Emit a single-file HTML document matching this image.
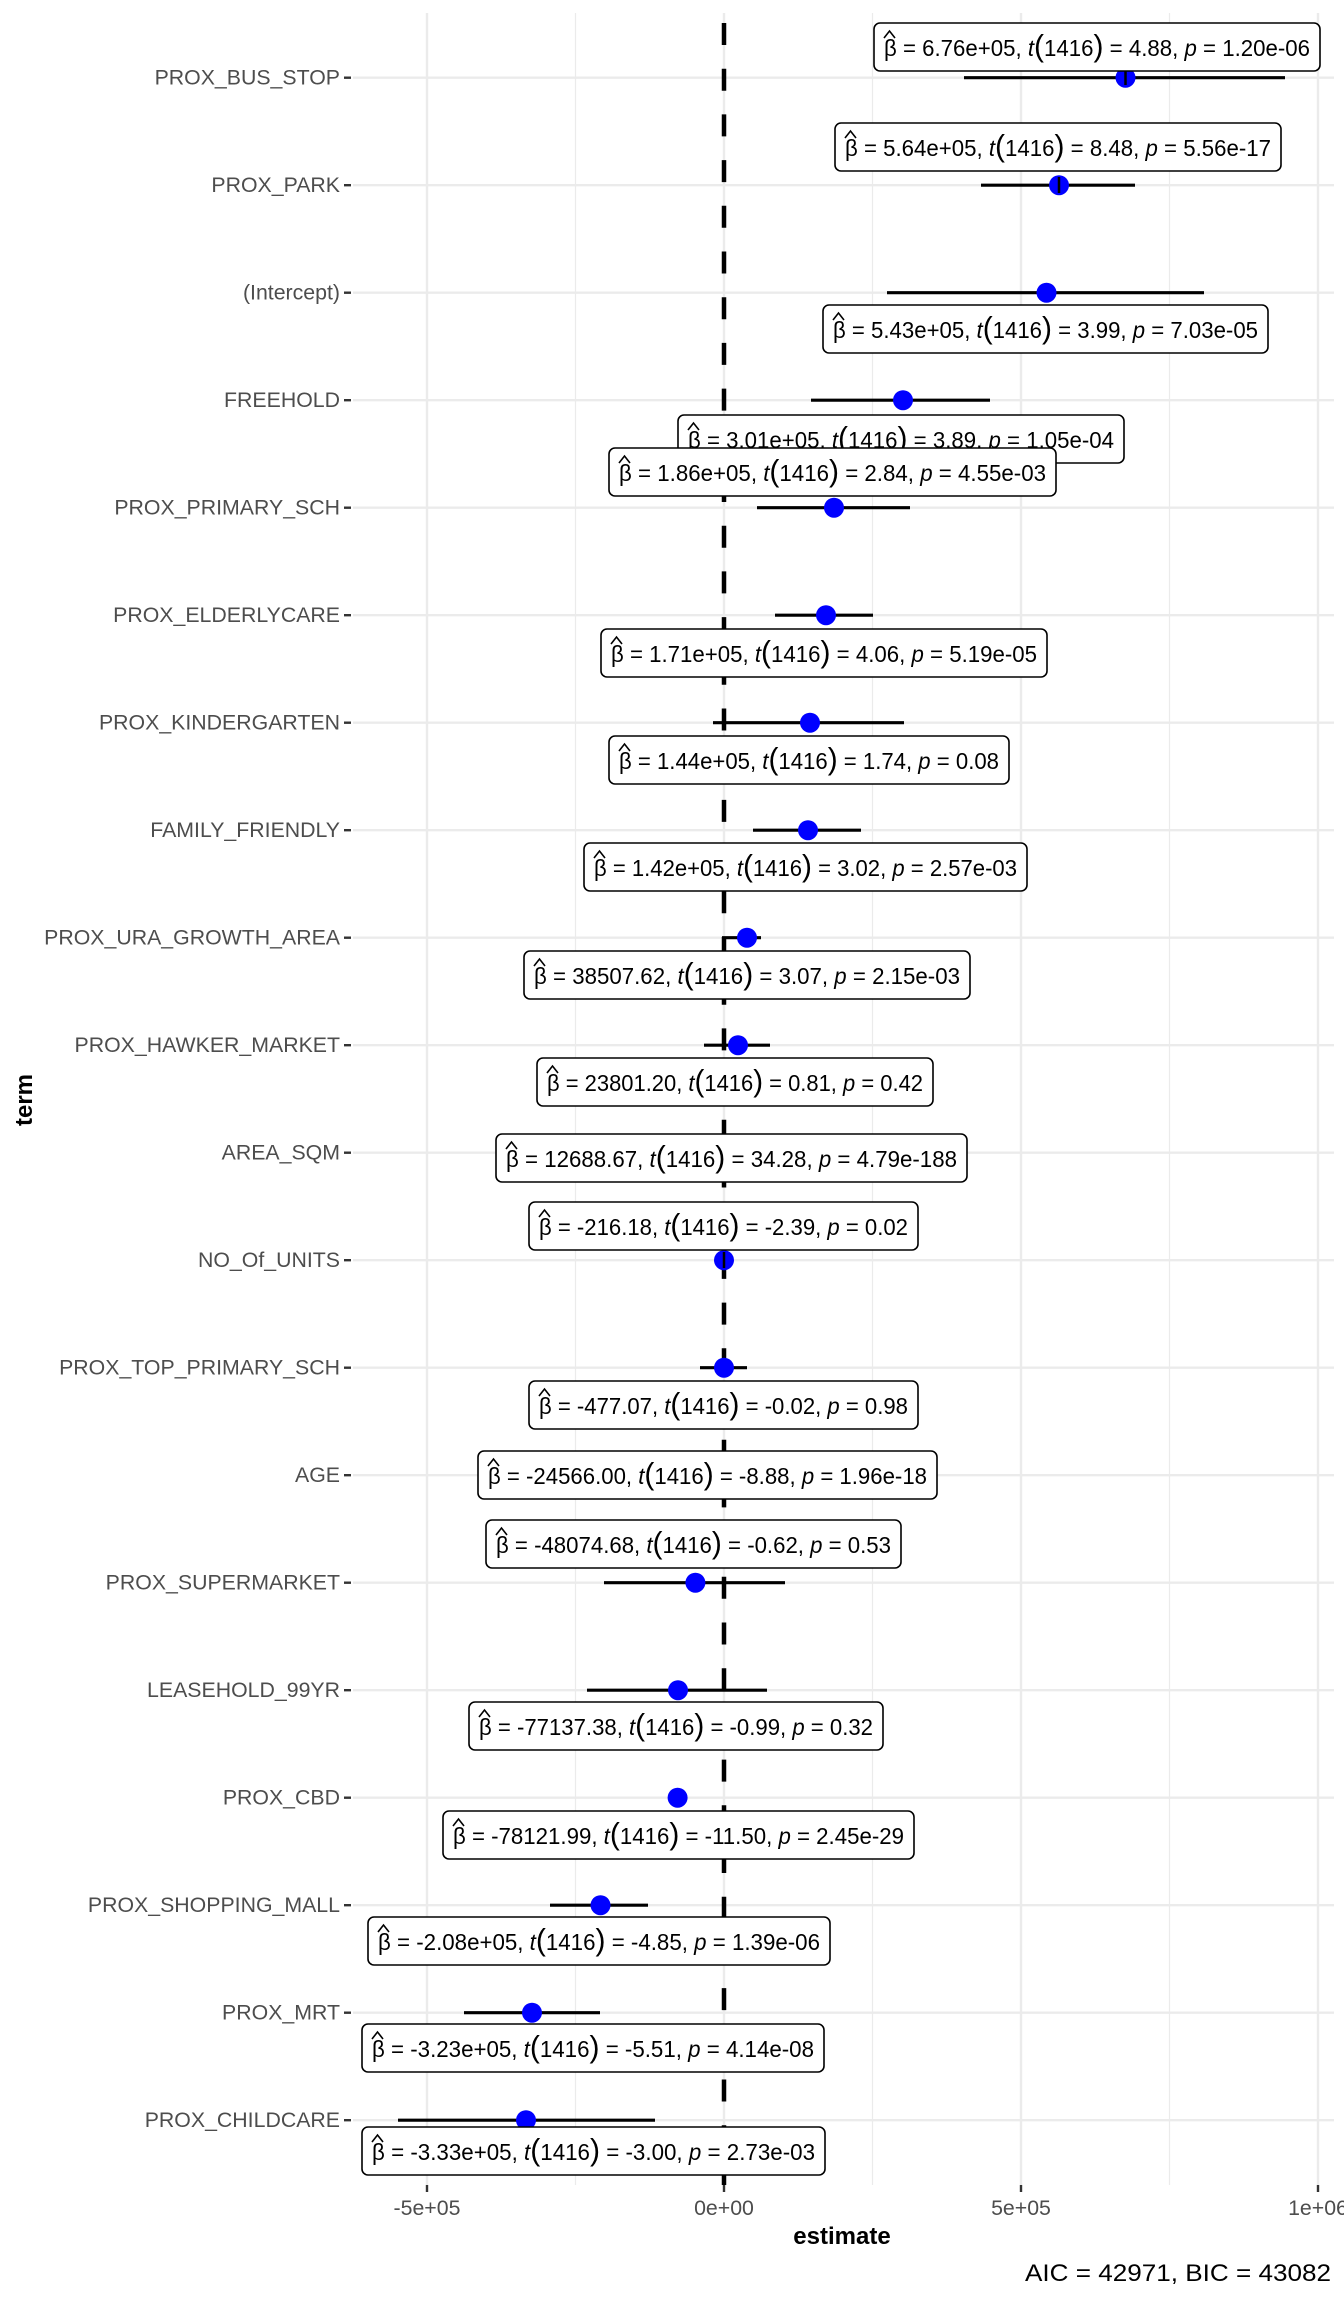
<!DOCTYPE html>
<html><head><meta charset="utf-8"><style>
html,body{margin:0;padding:0;background:#fff}
svg{display:block}
.yl{font-family:"Liberation Sans",sans-serif;font-size:21.3px;fill:#4d4d4d;text-anchor:end;dominant-baseline:central}
.xl{font-family:"Liberation Sans",sans-serif;font-size:21.3px;fill:#4d4d4d;text-anchor:middle}
.lb rect{fill:#fff;stroke:#000;stroke-width:1.6}
.lb polyline{fill:none;stroke:#000;stroke-width:1.6}
.lb text{font-family:"Liberation Sans",sans-serif;font-size:23px;fill:#000}
.it{font-style:italic}
.pp{font-size:31px}
</style></head><body>
<svg width="1344" height="2304" viewBox="0 0 1344 2304" xmlns="http://www.w3.org/2000/svg">
<g stroke="#ebebeb" stroke-width="1.2">
<line x1="575.5" y1="13" x2="575.5" y2="2185"/><line x1="872.5" y1="13" x2="872.5" y2="2185"/><line x1="1169.5" y1="13" x2="1169.5" y2="2185"/>
</g>
<g stroke="#ebebeb" stroke-width="2.4">
<line x1="427" y1="13" x2="427" y2="2185"/><line x1="724" y1="13" x2="724" y2="2185"/><line x1="1021" y1="13" x2="1021" y2="2185"/><line x1="1318" y1="13" x2="1318" y2="2185"/>
<line x1="353" y1="77.7" x2="1334" y2="77.7"/><line x1="353" y1="185.2" x2="1334" y2="185.2"/><line x1="353" y1="292.7" x2="1334" y2="292.7"/><line x1="353" y1="400.2" x2="1334" y2="400.2"/><line x1="353" y1="507.7" x2="1334" y2="507.7"/><line x1="353" y1="615.2" x2="1334" y2="615.2"/><line x1="353" y1="722.7" x2="1334" y2="722.7"/><line x1="353" y1="830.2" x2="1334" y2="830.2"/><line x1="353" y1="937.7" x2="1334" y2="937.7"/><line x1="353" y1="1045.2" x2="1334" y2="1045.2"/><line x1="353" y1="1152.7" x2="1334" y2="1152.7"/><line x1="353" y1="1260.2" x2="1334" y2="1260.2"/><line x1="353" y1="1367.7" x2="1334" y2="1367.7"/><line x1="353" y1="1475.2" x2="1334" y2="1475.2"/><line x1="353" y1="1582.7" x2="1334" y2="1582.7"/><line x1="353" y1="1690.2" x2="1334" y2="1690.2"/><line x1="353" y1="1797.7" x2="1334" y2="1797.7"/><line x1="353" y1="1905.2" x2="1334" y2="1905.2"/><line x1="353" y1="2012.7" x2="1334" y2="2012.7"/><line x1="353" y1="2120.2" x2="1334" y2="2120.2"/>
</g>
<line x1="724" y1="23" x2="724" y2="2185" stroke="#000" stroke-width="4.5" stroke-dasharray="22 23.7"/>
<g stroke="#000" stroke-width="3.2">
<line x1="964" y1="77.7" x2="1285" y2="77.7"/>
<line x1="981" y1="185.2" x2="1135" y2="185.2"/>
<line x1="887" y1="292.7" x2="1204" y2="292.7"/>
<line x1="811" y1="400.2" x2="990" y2="400.2"/>
<line x1="757" y1="507.7" x2="910" y2="507.7"/>
<line x1="775" y1="615.2" x2="873" y2="615.2"/>
<line x1="713" y1="722.7" x2="904" y2="722.7"/>
<line x1="753" y1="830.2" x2="861" y2="830.2"/>
<line x1="722" y1="937.7" x2="761" y2="937.7"/>
<line x1="704" y1="1045.2" x2="770" y2="1045.2"/>
<line x1="725" y1="1152.7" x2="739" y2="1152.7"/>
<line x1="720" y1="1260.2" x2="728" y2="1260.2"/>
<line x1="700" y1="1367.7" x2="747" y2="1367.7"/>
<line x1="703" y1="1475.2" x2="715" y2="1475.2"/>
<line x1="604" y1="1582.7" x2="785" y2="1582.7"/>
<line x1="587" y1="1690.2" x2="767" y2="1690.2"/>
<line x1="670" y1="1797.7" x2="686" y2="1797.7"/>
<line x1="550" y1="1905.2" x2="648" y2="1905.2"/>
<line x1="464" y1="2012.7" x2="600" y2="2012.7"/>
<line x1="398" y1="2120.2" x2="655" y2="2120.2"/>
</g>
<g fill="#0000ff">
<circle cx="1125.5" cy="77.7" r="10"/><circle cx="1059" cy="185.2" r="10"/><circle cx="1046.5" cy="292.7" r="10"/><circle cx="903" cy="400.2" r="10"/><circle cx="834" cy="507.7" r="10"/><circle cx="826" cy="615.2" r="10"/><circle cx="810" cy="722.7" r="10"/><circle cx="808" cy="830.2" r="10"/><circle cx="747" cy="937.7" r="10"/><circle cx="738" cy="1045.2" r="10"/><circle cx="731.5" cy="1152.7" r="10"/><circle cx="724" cy="1260.2" r="10"/><circle cx="724" cy="1367.7" r="10"/><circle cx="709" cy="1475.2" r="10"/><circle cx="695.4" cy="1582.7" r="10"/><circle cx="678" cy="1690.2" r="10"/><circle cx="677.6" cy="1797.7" r="10"/><circle cx="600.5" cy="1905.2" r="10"/><circle cx="532" cy="2012.7" r="10"/><circle cx="526" cy="2120.2" r="10"/>
</g>
<g stroke="#000" stroke-width="2.5">
<line x1="1125.5" y1="70" x2="1125.5" y2="85"/>
<line x1="1059" y1="177" x2="1059" y2="193"/>
<line x1="724" y1="1252" x2="724" y2="1268"/>
</g>
<g class="lb">
<g><rect x="874" y="23" width="446" height="48" rx="6"/><polyline points="884,38 889.5,31 895,38"/><text x="884" y="56" textLength="426" lengthAdjust="spacingAndGlyphs">β = 6.76e+05, <tspan class="it">t</tspan><tspan class="pp">(</tspan>1416<tspan class="pp">)</tspan> = 4.88, <tspan class="it">p</tspan> = 1.20e-06</text></g>
<g><rect x="835" y="123" width="446" height="48" rx="6"/><polyline points="845,138 850.5,131 856,138"/><text x="845" y="156" textLength="426" lengthAdjust="spacingAndGlyphs">β = 5.64e+05, <tspan class="it">t</tspan><tspan class="pp">(</tspan>1416<tspan class="pp">)</tspan> = 8.48, <tspan class="it">p</tspan> = 5.56e-17</text></g>
<g><rect x="823" y="305" width="445" height="48" rx="6"/><polyline points="833,320 838.5,313 844,320"/><text x="833" y="338" textLength="425" lengthAdjust="spacingAndGlyphs">β = 5.43e+05, <tspan class="it">t</tspan><tspan class="pp">(</tspan>1416<tspan class="pp">)</tspan> = 3.99, <tspan class="it">p</tspan> = 7.03e-05</text></g>
<g><rect x="678" y="415" width="446" height="48" rx="6"/><polyline points="688,430 693.5,423 699,430"/><text x="688" y="448" textLength="426" lengthAdjust="spacingAndGlyphs">β = 3.01e+05, <tspan class="it">t</tspan><tspan class="pp">(</tspan>1416<tspan class="pp">)</tspan> = 3.89, <tspan class="it">p</tspan> = 1.05e-04</text></g>
<g><rect x="609" y="448" width="447" height="48" rx="6"/><polyline points="619,463 624.5,456 630,463"/><text x="619" y="481" textLength="427" lengthAdjust="spacingAndGlyphs">β = 1.86e+05, <tspan class="it">t</tspan><tspan class="pp">(</tspan>1416<tspan class="pp">)</tspan> = 2.84, <tspan class="it">p</tspan> = 4.55e-03</text></g>
<g><rect x="601" y="629" width="446" height="48" rx="6"/><polyline points="611,644 616.5,637 622,644"/><text x="611" y="662" textLength="426" lengthAdjust="spacingAndGlyphs">β = 1.71e+05, <tspan class="it">t</tspan><tspan class="pp">(</tspan>1416<tspan class="pp">)</tspan> = 4.06, <tspan class="it">p</tspan> = 5.19e-05</text></g>
<g><rect x="609" y="736" width="400" height="48" rx="6"/><polyline points="619,751 624.5,744 630,751"/><text x="619" y="769" textLength="380" lengthAdjust="spacingAndGlyphs">β = 1.44e+05, <tspan class="it">t</tspan><tspan class="pp">(</tspan>1416<tspan class="pp">)</tspan> = 1.74, <tspan class="it">p</tspan> = 0.08</text></g>
<g><rect x="584" y="843" width="443" height="48" rx="6"/><polyline points="594,858 599.5,851 605,858"/><text x="594" y="876" textLength="423" lengthAdjust="spacingAndGlyphs">β = 1.42e+05, <tspan class="it">t</tspan><tspan class="pp">(</tspan>1416<tspan class="pp">)</tspan> = 3.02, <tspan class="it">p</tspan> = 2.57e-03</text></g>
<g><rect x="524" y="951" width="446" height="48" rx="6"/><polyline points="534,966 539.5,959 545,966"/><text x="534" y="984" textLength="426" lengthAdjust="spacingAndGlyphs">β = 38507.62, <tspan class="it">t</tspan><tspan class="pp">(</tspan>1416<tspan class="pp">)</tspan> = 3.07, <tspan class="it">p</tspan> = 2.15e-03</text></g>
<g><rect x="537" y="1058" width="396" height="48" rx="6"/><polyline points="547,1073 552.5,1066 558,1073"/><text x="547" y="1091" textLength="376" lengthAdjust="spacingAndGlyphs">β = 23801.20, <tspan class="it">t</tspan><tspan class="pp">(</tspan>1416<tspan class="pp">)</tspan> = 0.81, <tspan class="it">p</tspan> = 0.42</text></g>
<g><rect x="496" y="1134" width="471" height="48" rx="6"/><polyline points="506,1149 511.5,1142 517,1149"/><text x="506" y="1167" textLength="451" lengthAdjust="spacingAndGlyphs">β = 12688.67, <tspan class="it">t</tspan><tspan class="pp">(</tspan>1416<tspan class="pp">)</tspan> = 34.28, <tspan class="it">p</tspan> = 4.79e-188</text></g>
<g><rect x="529" y="1202" width="389" height="48" rx="6"/><polyline points="539,1217 544.5,1210 550,1217"/><text x="539" y="1235" textLength="369" lengthAdjust="spacingAndGlyphs">β = -216.18, <tspan class="it">t</tspan><tspan class="pp">(</tspan>1416<tspan class="pp">)</tspan> = -2.39, <tspan class="it">p</tspan> = 0.02</text></g>
<g><rect x="529" y="1381" width="389" height="48" rx="6"/><polyline points="539,1396 544.5,1389 550,1396"/><text x="539" y="1414" textLength="369" lengthAdjust="spacingAndGlyphs">β = -477.07, <tspan class="it">t</tspan><tspan class="pp">(</tspan>1416<tspan class="pp">)</tspan> = -0.02, <tspan class="it">p</tspan> = 0.98</text></g>
<g><rect x="478" y="1451" width="459" height="48" rx="6"/><polyline points="488,1466 493.5,1459 499,1466"/><text x="488" y="1484" textLength="439" lengthAdjust="spacingAndGlyphs">β = -24566.00, <tspan class="it">t</tspan><tspan class="pp">(</tspan>1416<tspan class="pp">)</tspan> = -8.88, <tspan class="it">p</tspan> = 1.96e-18</text></g>
<g><rect x="486" y="1520" width="415" height="48" rx="6"/><polyline points="496,1535 501.5,1528 507,1535"/><text x="496" y="1553" textLength="395" lengthAdjust="spacingAndGlyphs">β = -48074.68, <tspan class="it">t</tspan><tspan class="pp">(</tspan>1416<tspan class="pp">)</tspan> = -0.62, <tspan class="it">p</tspan> = 0.53</text></g>
<g><rect x="469" y="1702" width="414" height="48" rx="6"/><polyline points="479,1717 484.5,1710 490,1717"/><text x="479" y="1735" textLength="394" lengthAdjust="spacingAndGlyphs">β = -77137.38, <tspan class="it">t</tspan><tspan class="pp">(</tspan>1416<tspan class="pp">)</tspan> = -0.99, <tspan class="it">p</tspan> = 0.32</text></g>
<g><rect x="443" y="1811" width="471" height="48" rx="6"/><polyline points="453,1826 458.5,1819 464,1826"/><text x="453" y="1844" textLength="451" lengthAdjust="spacingAndGlyphs">β = -78121.99, <tspan class="it">t</tspan><tspan class="pp">(</tspan>1416<tspan class="pp">)</tspan> = -11.50, <tspan class="it">p</tspan> = 2.45e-29</text></g>
<g><rect x="368" y="1917" width="462" height="48" rx="6"/><polyline points="378,1932 383.5,1925 389,1932"/><text x="378" y="1950" textLength="442" lengthAdjust="spacingAndGlyphs">β = -2.08e+05, <tspan class="it">t</tspan><tspan class="pp">(</tspan>1416<tspan class="pp">)</tspan> = -4.85, <tspan class="it">p</tspan> = 1.39e-06</text></g>
<g><rect x="362" y="2024" width="462" height="48" rx="6"/><polyline points="372,2039 377.5,2032 383,2039"/><text x="372" y="2057" textLength="442" lengthAdjust="spacingAndGlyphs">β = -3.23e+05, <tspan class="it">t</tspan><tspan class="pp">(</tspan>1416<tspan class="pp">)</tspan> = -5.51, <tspan class="it">p</tspan> = 4.14e-08</text></g>
<g><rect x="362" y="2127" width="463" height="48" rx="6"/><polyline points="372,2142 377.5,2135 383,2142"/><text x="372" y="2160" textLength="443" lengthAdjust="spacingAndGlyphs">β = -3.33e+05, <tspan class="it">t</tspan><tspan class="pp">(</tspan>1416<tspan class="pp">)</tspan> = -3.00, <tspan class="it">p</tspan> = 2.73e-03</text></g>
</g>
<g stroke="#333" stroke-width="2.4">
<line x1="344" y1="77.7" x2="351" y2="77.7"/><line x1="344" y1="185.2" x2="351" y2="185.2"/><line x1="344" y1="292.7" x2="351" y2="292.7"/><line x1="344" y1="400.2" x2="351" y2="400.2"/><line x1="344" y1="507.7" x2="351" y2="507.7"/><line x1="344" y1="615.2" x2="351" y2="615.2"/><line x1="344" y1="722.7" x2="351" y2="722.7"/><line x1="344" y1="830.2" x2="351" y2="830.2"/><line x1="344" y1="937.7" x2="351" y2="937.7"/><line x1="344" y1="1045.2" x2="351" y2="1045.2"/><line x1="344" y1="1152.7" x2="351" y2="1152.7"/><line x1="344" y1="1260.2" x2="351" y2="1260.2"/><line x1="344" y1="1367.7" x2="351" y2="1367.7"/><line x1="344" y1="1475.2" x2="351" y2="1475.2"/><line x1="344" y1="1582.7" x2="351" y2="1582.7"/><line x1="344" y1="1690.2" x2="351" y2="1690.2"/><line x1="344" y1="1797.7" x2="351" y2="1797.7"/><line x1="344" y1="1905.2" x2="351" y2="1905.2"/><line x1="344" y1="2012.7" x2="351" y2="2012.7"/><line x1="344" y1="2120.2" x2="351" y2="2120.2"/>
<line x1="427" y1="2185" x2="427" y2="2192"/><line x1="724" y1="2185" x2="724" y2="2192"/><line x1="1021" y1="2185" x2="1021" y2="2192"/><line x1="1318" y1="2185" x2="1318" y2="2192"/>
</g>
<g class="yl">
<text x="340" y="77.7">PROX_BUS_STOP</text><text x="340" y="185.2">PROX_PARK</text><text x="340" y="292.7">(Intercept)</text><text x="340" y="400.2">FREEHOLD</text><text x="340" y="507.7">PROX_PRIMARY_SCH</text><text x="340" y="615.2">PROX_ELDERLYCARE</text><text x="340" y="722.7">PROX_KINDERGARTEN</text><text x="340" y="830.2">FAMILY_FRIENDLY</text><text x="340" y="937.7">PROX_URA_GROWTH_AREA</text><text x="340" y="1045.2">PROX_HAWKER_MARKET</text><text x="340" y="1152.7">AREA_SQM</text><text x="340" y="1260.2">NO_Of_UNITS</text><text x="340" y="1367.7">PROX_TOP_PRIMARY_SCH</text><text x="340" y="1475.2">AGE</text><text x="340" y="1582.7">PROX_SUPERMARKET</text><text x="340" y="1690.2">LEASEHOLD_99YR</text><text x="340" y="1797.7">PROX_CBD</text><text x="340" y="1905.2">PROX_SHOPPING_MALL</text><text x="340" y="2012.7">PROX_MRT</text><text x="340" y="2120.2">PROX_CHILDCARE</text>
</g>
<g class="xl">
<text x="427" y="2215">-5e+05</text><text x="724" y="2215">0e+00</text><text x="1021" y="2215">5e+05</text><text x="1318" y="2215">1e+06</text>
</g>
<text x="842" y="2244" text-anchor="middle" font-family="Liberation Sans, sans-serif" font-size="24" font-weight="bold">estimate</text>
<text x="32" y="1100" text-anchor="middle" font-family="Liberation Sans, sans-serif" font-size="24" font-weight="bold" transform="rotate(-90 32 1100)">term</text>
<text x="1331" y="2281" text-anchor="end" font-family="Liberation Sans, sans-serif" font-size="24" textLength="306" lengthAdjust="spacingAndGlyphs">AIC = 42971, BIC = 43082</text>
</svg>
</body></html>
